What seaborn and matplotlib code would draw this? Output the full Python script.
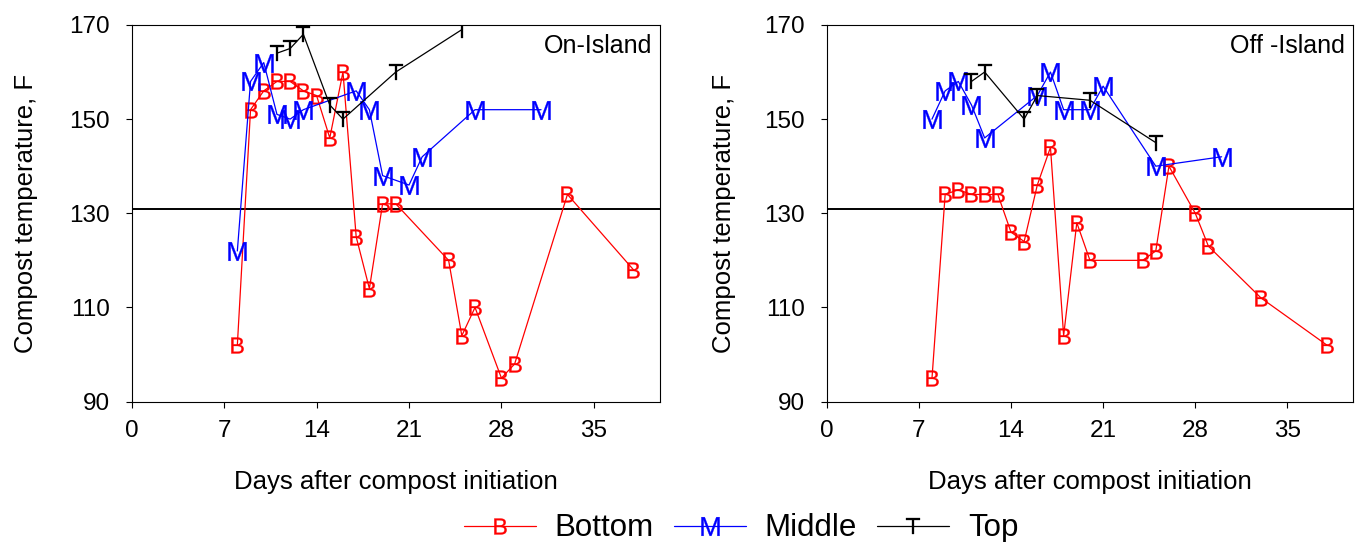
import numpy as np
import matplotlib
matplotlib.use("Agg")
import matplotlib.pyplot as plt
import seaborn as sns

# compost temperatures (days after initiation, deg F)
on_b_day = [8, 9, 10, 11, 12, 13, 14, 15, 16, 17, 18, 19, 20, 24, 25, 26, 28, 29, 33, 38]
on_b_temp = [102, 152, 156, 158, 158, 156, 155, 146, 160, 125, 114, 132, 132, 120, 104, 110, 95, 98, 134, 118]
on_m_day = [8, 9, 10, 11, 12, 13, 17, 18, 19, 21, 22, 26, 31]
on_m_temp = [122, 158, 162, 151, 150, 152, 156, 152, 138, 136, 142, 152, 152]
on_t_day = [11, 12, 13, 15, 16, 20, 25]
on_t_temp = [164, 165, 168, 153, 150, 160, 169]

off_b_day = [8, 9, 10, 11, 12, 13, 14, 15, 16, 17, 18, 19, 20, 24, 25, 26, 28, 29, 33, 38]
off_b_temp = [95, 134, 135, 134, 134, 134, 126, 124, 136, 144, 104, 128, 120, 120, 122, 140, 130, 123, 112, 102]
off_m_day = [8, 9, 10, 11, 12, 16, 17, 18, 20, 21, 25, 30]
off_m_temp = [150, 156, 158, 153, 146, 155, 160, 152, 152, 157, 140, 142]
off_t_day = [11, 12, 15, 16, 20, 25]
off_t_temp = [158, 160, 150, 155, 154, 145]

threshold = 131  # PFRP limit line
x_ticks = [0, 7, 14, 21, 28, 35]
y_ticks = [90, 110, 130, 150, 170]

sns.set_style("ticks")
plt.rcParams['font.family'] = ['Liberation Sans', 'DejaVu Sans']
plt.rcParams['mathtext.fontset'] = 'custom'
plt.rcParams['mathtext.rm'] = 'Liberation Sans'
plt.rcParams['mathtext.it'] = 'Liberation Sans'
for k in ['text.color', 'axes.labelcolor', 'xtick.color', 'ytick.color', 'axes.edgecolor']:
    plt.rcParams[k] = 'black'

fig = plt.figure(figsize=(13.55, 5.42), dpi=100)
ax1 = fig.add_axes([0.0972, 0.259, 0.3898, 0.695])
ax2 = fig.add_axes([0.6101, 0.259, 0.3886, 0.695])

series = {
    'Bottom': ('red', r'$\mathrm{B}$', 11.5),
    'Middle': ('blue', r'$\mathrm{M}$', 13.5),
    'Top': ('black', r'$\mathrm{T}$', 11.5),
}

panels = [
    (ax1, 'On-Island', [(on_b_day, on_b_temp), (on_m_day, on_m_temp), (on_t_day, on_t_temp)], -0.177),
    (ax2, 'Off -Island', [(off_b_day, off_b_temp), (off_m_day, off_m_temp), (off_t_day, off_t_temp)], -0.172),
]

for ax, title, data, ylab_x in panels:
    for (name, (col, mk, ms)), (d, t) in zip(series.items(), data):
        sns.lineplot(x=d, y=t, ax=ax, color=col, marker=mk, markersize=ms,
                     markeredgecolor=col, markerfacecolor=col, markeredgewidth=0.2,
                     linewidth=0.9, estimator=None, sort=False, label=name, legend=False)
    ax.axhline(threshold, color='black', linewidth=1.4, zorder=1)
    ax.set_xlim(0, 40)
    ax.set_ylim(90, 170)
    ax.set_xticks(x_ticks)
    ax.set_yticks(y_ticks)
    ax.tick_params(axis='both', labelsize=17.5, direction='out', length=4.5, width=0.8)
    ax.tick_params(axis='x', pad=9)
    ax.tick_params(axis='y', pad=11)
    for s in ax.spines.values():
        s.set_linewidth(0.8)
    ax.set_xlabel('Days after compost initiation', fontsize=18.5)
    ax.set_ylabel('Compost temperature, F', fontsize=18.5)
    ax.xaxis.set_label_coords(0.5, -0.181)
    ax.yaxis.set_label_coords(ylab_x, 0.5)
    ax.text(0.985, 0.945, title, transform=ax.transAxes, ha='right', va='center', fontsize=18)

handles, labels = ax1.get_legend_handles_labels()
fig.legend(handles, labels, loc='center', bbox_to_anchor=(0.547, 0.025), ncol=3, frameon=False,
           fontsize=22.5, handlelength=2.3, handletextpad=0.6, columnspacing=0.65)

fig.savefig('out.png', dpi=100)
